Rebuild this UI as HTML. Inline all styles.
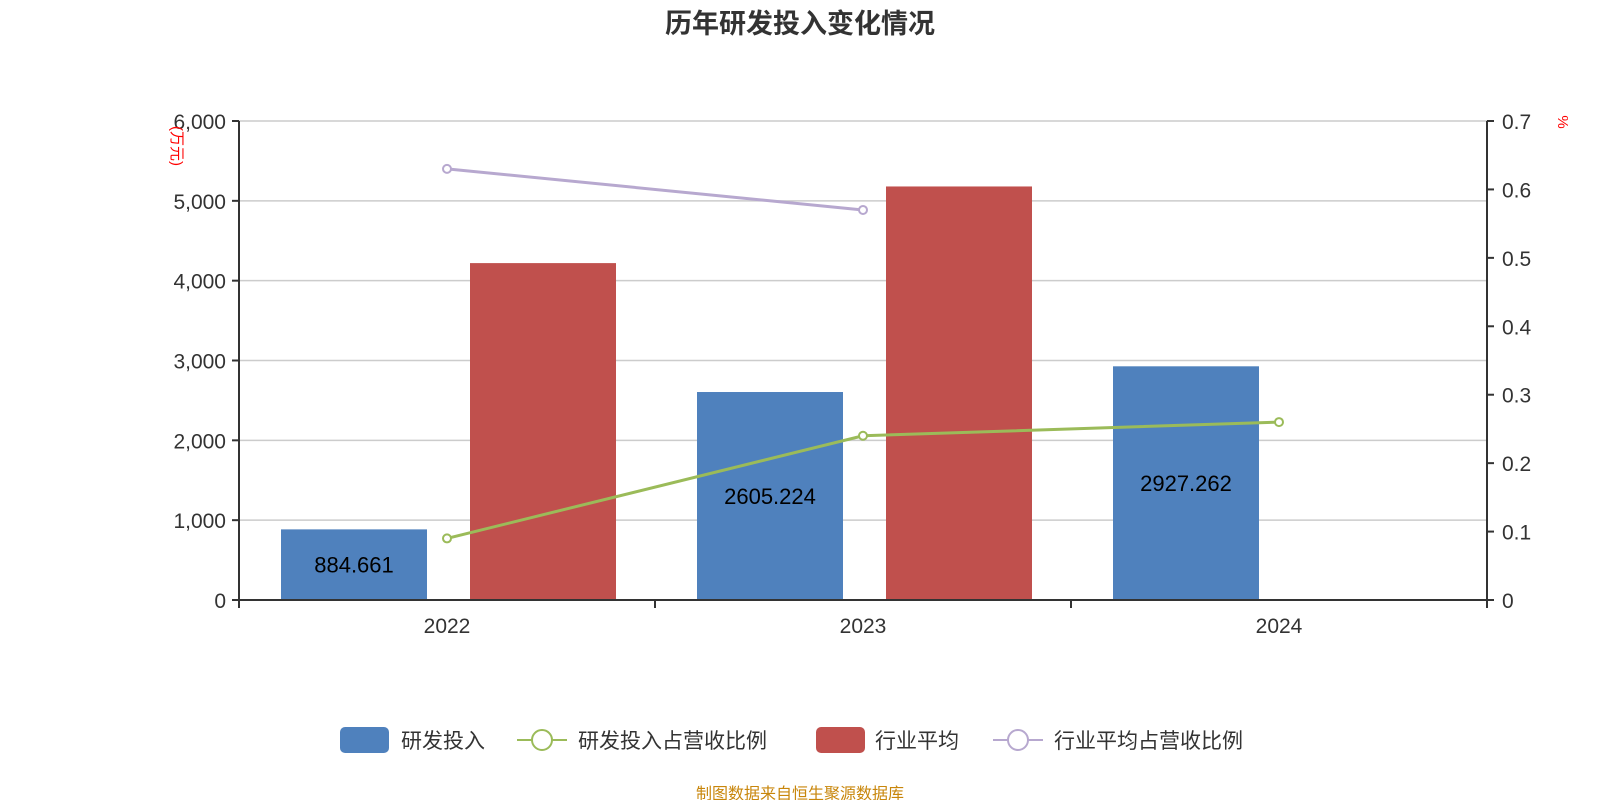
<!DOCTYPE html>
<html><head><meta charset="utf-8"><style>
body{margin:0;background:#fff;}
svg text{font-family:"Liberation Sans","Noto Sans CJK SC",sans-serif;}
</style></head><body>
<svg id="c" width="1600" height="800" xmlns="http://www.w3.org/2000/svg">
<text x="800" y="33" text-anchor="middle" font-size="27" font-weight="bold" fill="#333">历年研发投入变化情况</text>
<g id="grid"></g><g id="bars"></g><g id="lines"></g><g id="axes"></g>
<text transform="translate(172,146) rotate(90)" text-anchor="middle" font-size="15" fill="red">(万元)</text>
<text transform="translate(1558,122) rotate(90)" text-anchor="middle" font-size="15" fill="red">%</text>
<g>
<g><rect x="340" y="727" width="49" height="26" rx="5" fill="#4f81bd"/><text x="401" y="748" font-size="21" fill="#333">研发投入</text></g>
<g><line x1="517" y1="740" x2="567" y2="740" stroke="#9bbb59" stroke-width="2"/><circle cx="542" cy="740" r="10" fill="#fff" stroke="#9bbb59" stroke-width="2"/><text x="578" y="748" font-size="21" fill="#333">研发投入占营收比例</text></g>
<g><rect x="816" y="727" width="49" height="26" rx="5" fill="#c0504d"/><text x="875" y="748" font-size="21" fill="#333">行业平均</text></g>
<g><line x1="993" y1="740" x2="1043" y2="740" stroke="#b7a8cf" stroke-width="2"/><circle cx="1018" cy="740" r="10" fill="#fff" stroke="#b7a8cf" stroke-width="2"/><text x="1054" y="748" font-size="21" fill="#333">行业平均占营收比例</text></g>
</g>
<text x="800" y="799" text-anchor="middle" font-size="16" fill="#c8860b">制图数据来自恒生聚源数据库</text>
</svg>
<script>
const categories=["2022","2023","2024"];
const rdValues=[884.661,2605.224,2927.262];
const industryValues=[4220,5180,null];
const rdRatio=[0.09,0.24,0.26];
const industryRatio=[0.63,0.57,null];
const leftTicks=[0,1000,2000,3000,4000,5000,6000];
const rightTicks=[0,0.1,0.2,0.3,0.4,0.5,0.6,0.7];
const NS="http://www.w3.org/2000/svg";
const X0=239,X1=1487,Y0=600,Y1=121;
const band=(X1-X0)/categories.length;
const xc=i=>X0+band*(i+0.5);
const yL=v=>Y0-(v/6000)*(Y0-Y1);
const yR=v=>Y0-(v/0.7)*(Y0-Y1);
function mk(tag,attrs,parent,txt){const e=document.createElementNS(NS,tag);for(const k in attrs)e.setAttribute(k,attrs[k]);if(txt!==undefined)e.textContent=txt;document.getElementById(parent).appendChild(e);return e;}
const fmt=v=>v.toLocaleString('en-US');
leftTicks.forEach(t=>{const y=yL(t);
 if(t>0){const g=mk('line',{x1:X0,x2:X1,y1:y,y2:y,stroke:'#ccc','stroke-width':1.5},'grid');}
 const tk=mk('line',{x1:X0-7,x2:X0,y1:y,y2:y,stroke:'#333','stroke-width':2},'axes');
 const l=mk('text',{x:X0-13,y:y+8,'text-anchor':'end','font-size':21,fill:'#333'},'axes',fmt(t));});
rightTicks.forEach(t=>{const y=yR(t);
 const tk=mk('line',{x1:X1,x2:X1+7,y1:y,y2:y,stroke:'#333','stroke-width':2},'axes');
 const l=mk('text',{x:X1+15,y:y+8,'font-size':21,fill:'#333'},'axes',String(t));});
let a=mk('line',{x1:X0,x2:X0,y1:Y1,y2:Y0+8,stroke:'#333','stroke-width':2},'axes');
a=mk('line',{x1:X1,x2:X1,y1:Y1,y2:Y0+8,stroke:'#333','stroke-width':2},'axes');
a=mk('line',{x1:X0,x2:X1,y1:Y0,y2:Y0,stroke:'#333','stroke-width':2},'axes');
for(let i=0;i<=categories.length;i++){const t=mk('line',{x1:X0+band*i,x2:X0+band*i,y1:Y0,y2:Y0+8,stroke:'#333','stroke-width':2},'axes');}
categories.forEach((c,i)=>{const l=mk('text',{x:xc(i),y:633,'text-anchor':'middle','font-size':21,fill:'#333'},'axes',c);
 const bw=146;
 if(rdValues[i]!=null){const y=yL(rdValues[i]);const b=mk('rect',{x:xc(i)-93-bw/2,y:y,width:bw,height:Y0-y,fill:'#4f81bd'},'bars');
  const t=mk('text',{x:xc(i)-93,y:(y+Y0)/2+8,'text-anchor':'middle','font-size':22,fill:'#000'},'bars',String(rdValues[i]));}
 if(industryValues[i]!=null){const y=yL(industryValues[i]);const b=mk('rect',{x:xc(i)+96-bw/2,y:y,width:bw,height:Y0-y,fill:'#c0504d'},'bars');}
});
function line(vals,color,name){const pts=[];vals.forEach((v,i)=>{if(v!=null)pts.push([xc(i),yR(v)]);});
 const p=mk('polyline',{points:pts.map(p=>p.join(',')).join(' '),fill:'none',stroke:color,'stroke-width':3},'lines');
 pts.forEach(q=>{const c=mk('circle',{cx:q[0],cy:q[1],r:4,fill:'#fff',stroke:color,'stroke-width':2},'lines');});}
line(rdRatio,'#9bbb59','rd-ratio');
line(industryRatio,'#b7a8cf','industry-ratio');
</script>
</body></html>
